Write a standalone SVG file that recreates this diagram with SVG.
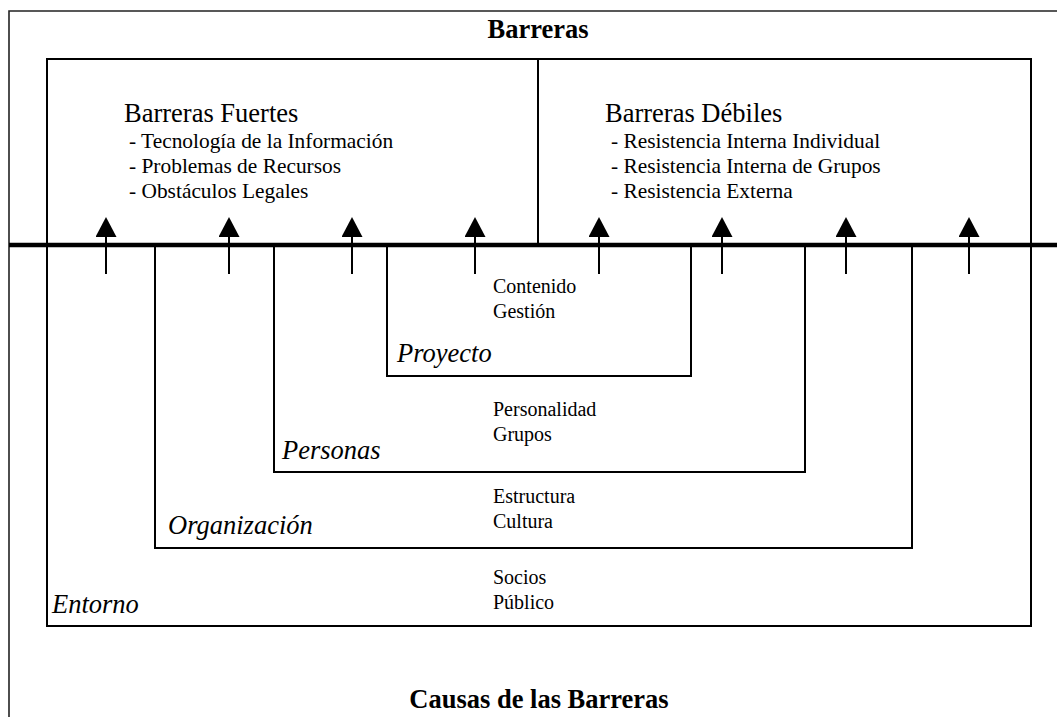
<svg xmlns="http://www.w3.org/2000/svg" width="1057" height="717" viewBox="0 0 1057 717">
  <style>
    .frame { fill: none; stroke: #222; stroke-width: 1.6; }
    .box { fill: none; stroke: #000; stroke-width: 2; }
    .axis { stroke: #000; stroke-width: 4.5; }
    .arrow { stroke: #000; stroke-width: 2; marker-end: url(#head); }
    .title { font-family: "Liberation Serif", "Times New Roman", serif; font-weight: bold; font-size: 26.5px; fill: #000; text-anchor: middle; }
    .head { font-family: "Liberation Serif", "Times New Roman", serif; font-size: 26.5px; fill: #000; }
    .bullet { font-family: "Liberation Serif", "Times New Roman", serif; font-size: 21.4px; fill: #000; }
    .item { font-family: "Liberation Serif", "Times New Roman", serif; font-size: 20px; fill: #000; }
    .level { font-family: "Liberation Serif", "Times New Roman", serif; font-style: italic; font-size: 26.5px; fill: #000; }
  </style>
  <defs>
    <marker id="head" markerUnits="userSpaceOnUse" markerWidth="20" markerHeight="21" viewBox="0 0 20 21" refX="0" refY="10.5" orient="auto">
      <path d="M0,0 L20,10.5 L0,21 Z" fill="#000"/>
    </marker>
  </defs>
  <rect width="1057" height="717" fill="#fff"/>

  <!-- outer frame, open to the right and bottom -->
  <g id="frame">
    <path class="frame" d="M9,717 V11 H1057"/>
    <text class="title" x="538" y="38">Barreras</text>
    <text class="title" x="539" y="708">Causas de las Barreras</text>
  </g>

  <!-- main enclosure: barriers above the axis, environment below -->
  <g id="entorno">
    <rect class="box" x="47" y="59" width="984" height="567"/>
    <text class="level" x="52" y="613">Entorno</text>
    <text class="item" x="493" y="584">Socios</text>
    <text class="item" x="493" y="609">Público</text>
  </g>

  <g id="barreras-fuertes">
    <text class="head" x="124" y="122">Barreras Fuertes</text>
    <text class="bullet" x="129" y="148">- Tecnología de la Información</text>
    <text class="bullet" x="129" y="173">- Problemas de Recursos</text>
    <text class="bullet" x="129" y="198">- Obstáculos Legales</text>
  </g>

  <g id="barreras-debiles">
    <path class="box" d="M538,59 V247"/>
    <text class="head" x="605" y="122">Barreras Débiles</text>
    <text class="bullet" x="611" y="148">- Resistencia Interna Individual</text>
    <text class="bullet" x="611" y="173">- Resistencia Interna de Grupos</text>
    <text class="bullet" x="611" y="198">- Resistencia Externa</text>
  </g>

  <g id="organizacion">
    <path class="box" d="M155,245 V548 H912 V245"/>
    <text class="level" x="168" y="534">Organización</text>
    <text class="item" x="493" y="503">Estructura</text>
    <text class="item" x="493" y="528">Cultura</text>
  </g>

  <g id="personas">
    <path class="box" d="M274,245 V472 H805 V245"/>
    <text class="level" x="282" y="459">Personas</text>
    <text class="item" x="493" y="416">Personalidad</text>
    <text class="item" x="493" y="441">Grupos</text>
  </g>

  <g id="proyecto">
    <path class="box" d="M387,245 V376 H691 V245"/>
    <text class="level" x="397" y="362">Proyecto</text>
    <text class="item" x="493" y="293">Contenido</text>
    <text class="item" x="493" y="318">Gestión</text>
  </g>

  <!-- causes push up across the axis into the barriers -->
  <g id="connectors">
    <line class="axis" x1="9" y1="245" x2="1057" y2="245"/>
    <line class="arrow" x1="106" y1="274" x2="106" y2="237"/>
    <line class="arrow" x1="229" y1="274" x2="229" y2="237"/>
    <line class="arrow" x1="352" y1="274" x2="352" y2="237"/>
    <line class="arrow" x1="475" y1="274" x2="475" y2="237"/>
    <line class="arrow" x1="599" y1="274" x2="599" y2="237"/>
    <line class="arrow" x1="722" y1="274" x2="722" y2="237"/>
    <line class="arrow" x1="846" y1="274" x2="846" y2="237"/>
    <line class="arrow" x1="969" y1="274" x2="969" y2="237"/>
  </g>
</svg>
